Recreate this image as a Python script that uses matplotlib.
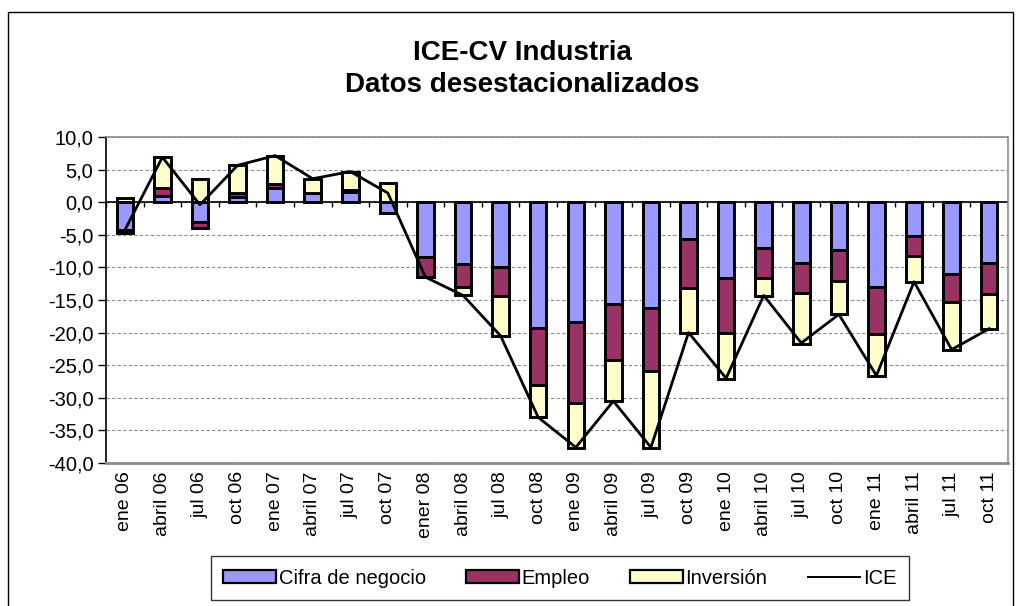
import matplotlib
matplotlib.use("Agg")
import matplotlib.pyplot as plt
import numpy as np
from matplotlib.patches import Rectangle
from matplotlib.lines import Line2D

plt.rcParams['font.family'] = ['Liberation Sans', 'DejaVu Sans']

categories = ["ene 06", "abril 06", "jul 06", "oct 06", "ene 07", "abril 07", "jul 07", "oct 07",
              "ener 08", "abril 08", "jul 08", "oct 08", "ene 09", "abril 09", "jul 09", "oct 09",
              "ene 10", "abril 10", "jul 10", "oct 10", "ene 11", "abril 11", "jul 11", "oct 11"]

cifra = [-4.3, 1.0, -3.1, 0.85, 2.2, 1.35, 1.55, -1.6, -8.4, -9.5, -9.9, -19.35,
         -18.4, -15.6, -16.3, -5.7, -11.7, -7.1, -9.4, -7.4, -13.05, -5.2, -11.05, -9.3]
empleo = [-0.5, 1.2, -0.85, 0.6, 0.55, 0.0, 0.3, 0.0, -3.0, -3.5, -4.5, -8.65,
          -12.4, -8.65, -9.6, -7.5, -8.4, -4.6, -4.6, -4.7, -7.2, -3.05, -4.25, -4.8]
inversion = [0.6, 4.7, 3.5, 4.2, 4.4, 2.2, 2.85, 3.0, -0.1, -1.3, -6.1, -5.0,
             -6.9, -6.3, -11.75, -6.9, -7.0, -2.7, -7.75, -5.1, -6.4, -4.0, -7.4, -5.3]
ice = [-4.3, 6.9, -0.4, 5.65, 7.15, 3.6, 4.7, 1.4, -11.5, -14.3, -20.5, -33.0,
       -37.6, -30.5, -37.6, -20.0, -27.0, -14.3, -21.6, -17.2, -26.6, -12.2, -22.6, -19.4]

series_names = ["Cifra de negocio", "Empleo", "Inversión"]
series_colors = ["#9999FF", "#993366", "#FFFFCC"]
line_name = "ICE"

yticks = [10, 5, 0, -5, -10, -15, -20, -25, -30, -35, -40]
ytick_labels = ["10,0", "5,0", "0,0", "-5,0", "-10,0", "-15,0", "-20,0", "-25,0",
                "-30,0", "-35,0", "-40,0"]

title = "ICE-CV Industria\nDatos desestacionalizados"

fig = plt.figure(figsize=(10.28, 6.06), dpi=100)
ax = fig.add_axes([106 / 1028, 1 - 463 / 606, (1008 - 106) / 1028, (463 - 137) / 606])

x = np.arange(len(categories))
pos_bottom = np.zeros(len(categories))
neg_bottom = np.zeros(len(categories))
handles = []
for vals, name, col in zip([cifra, empleo, inversion], series_names, series_colors):
    v = np.array(vals, dtype=float)
    bottoms = np.where(v >= 0, pos_bottom, neg_bottom)
    ax.bar(x, v, bottom=bottoms, width=0.44, color=col, edgecolor='black',
           linewidth=2.1, zorder=3)
    pos_bottom = pos_bottom + np.where(v >= 0, v, 0)
    neg_bottom = neg_bottom + np.where(v < 0, v, 0)
    handles.append(Rectangle((0, 0), 1, 1, facecolor=col, edgecolor='black', linewidth=1.6))

ax.plot(x, ice, color='black', linewidth=2.0, zorder=4)
handles.append(Line2D([0], [0], color='black', linewidth=1.4))

ax.set_xlim(-0.5, len(categories) - 0.5)
ax.set_ylim(-40, 10)
ax.set_yticks(yticks)
ax.set_yticklabels(ytick_labels, fontsize=14.5)
ax.set_xticks(x)
ax.set_xticklabels(categories, rotation=90, fontsize=14)
ax.tick_params(axis='x', length=0, pad=6)
ax.tick_params(axis='y', direction='out', length=6, width=1, color='black', pad=3)

ax.yaxis.grid(True, linestyle=(0, (3, 2)), color='#8c8c8c', linewidth=0.8, zorder=0)
ax.set_axisbelow(True)

for side in ['top', 'right', 'bottom']:
    ax.spines[side].set_color('#8c8c8c')
    ax.spines[side].set_linewidth(1.2)
ax.spines['bottom'].set_linewidth(2.0)
ax.spines['left'].set_color('black')
ax.spines['left'].set_linewidth(1.2)

# category axis crossing at zero, with tick marks between categories
ax.axhline(0, color='black', linewidth=1.2, zorder=2)
ax.vlines(np.arange(len(categories) + 1) - 0.5, -0.8, 0, color='black', linewidth=1.0, zorder=2)

fig.text(0.508, 1 - 69 / 606, title, ha='center', va='center', fontsize=20,
         fontweight='bold', linespacing=1.3)

leg = fig.legend(handles, series_names + [line_name], loc='center',
                 bbox_to_anchor=(560 / 1028, 1 - 578 / 606), ncol=4, fontsize=14.5,
                 frameon=True, fancybox=False, edgecolor='black', handlelength=2.6,
                 handleheight=0.6, handletextpad=0.15, columnspacing=2.0,
                 borderpad=0.6)
leg.get_frame().set_linewidth(1.0)

# outer chart frame
fig.patches.append(Rectangle((8 / 1028, -0.2), (1013 - 8) / 1028, 1.2 - 12 / 606,
                             transform=fig.transFigure, fill=False, edgecolor='black',
                             linewidth=1.0))

fig.savefig("out.png", dpi=100)
